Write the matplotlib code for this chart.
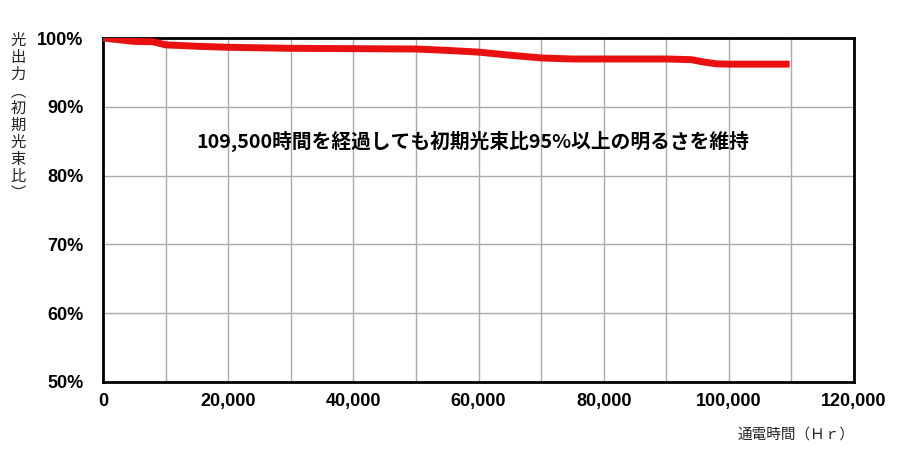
import matplotlib
matplotlib.use("Agg")
import matplotlib.pyplot as plt
from matplotlib.ticker import MultipleLocator, FuncFormatter

plt.rcParams['font.family'] = ['Noto Sans CJK JP', 'DejaVu Sans']

# 通電時間 (h) と 光出力 (%)
hours = [0, 3000, 5000, 8000, 10000, 15000, 20000, 30000, 40000, 50000,
         55000, 60000, 65000, 70000, 75000, 80000, 90000, 94000, 96000,
         98000, 100000, 105000, 109700]
output = [100.0, 99.7, 99.5, 99.45, 99.0, 98.8, 98.65, 98.5, 98.45, 98.4,
          98.2, 97.95, 97.5, 97.1, 96.95, 96.95, 96.95, 96.85, 96.5,
          96.25, 96.2, 96.2, 96.2]

x_ticks = [0, 20000, 40000, 60000, 80000, 100000, 120000]
y_ticks = [50, 60, 70, 80, 90, 100]

fig = plt.figure(figsize=(9, 4.51), dpi=100)
ax = fig.add_axes([103/900, 1 - 382/451, (854-103)/900, (382-38)/451])

ax.plot(hours, output, color='#e81010', linewidth=5, solid_joinstyle='round',
        solid_capstyle='butt', zorder=3)

ax.set_xlim(0, 120000)
ax.set_ylim(50, 100)
ax.xaxis.set_minor_locator(MultipleLocator(10000))
ax.set_xticks(x_ticks)
ax.set_yticks(y_ticks)
ax.grid(which='both', color='#aaaaaa', linewidth=1)
ax.set_axisbelow(True)
ax.tick_params(which='both', length=0)
ax.tick_params(axis='x', pad=8)
ax.tick_params(axis='y', pad=14)

ax.xaxis.set_major_formatter(FuncFormatter(lambda v, p: f"{int(v):,}"))
ax.yaxis.set_major_formatter(FuncFormatter(lambda v, p: f"{int(v)}%"))
for lbl in ax.get_xticklabels() + ax.get_yticklabels():
    lbl.set_fontfamily('Liberation Sans')
    lbl.set_fontweight('bold')
    lbl.set_fontsize(13)

for s in ax.spines.values():
    s.set_linewidth(2)
    s.set_color('black')

ax.text(0.493, 0.70, "109,500時間を経過しても初期光束比95%以上の明るさを維持",
        transform=ax.transAxes, ha='center', va='center',
        fontsize=14.2, fontweight='bold', color='black')

ylabel = "\n".join(list("光出力")) + "\n︵\n" + "\n".join(list("初期光束比")) + "\n︶"
fig.text(18/900, 1 - 117/451, ylabel, ha='center', va='center',
         fontsize=11, linespacing=1.0, color='#222222')

fig.text(855/900, 1 - 435/451, "通電時間（Ｈｒ）", ha='right', va='center',
         fontsize=10.5, color='#222222')

fig.savefig("out.png", dpi=100)
